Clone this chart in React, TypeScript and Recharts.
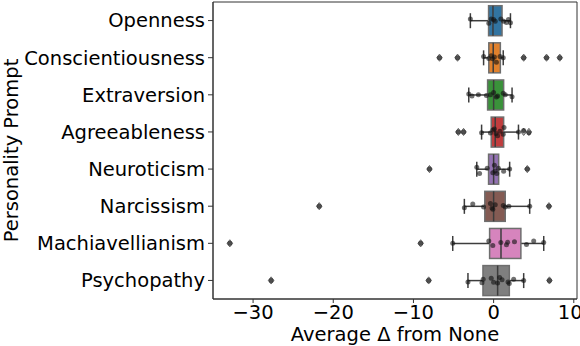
import { ComposedChart, Bar, Scatter, XAxis, YAxis, ReferenceArea } from 'recharts'

const categories = ['Openness', 'Conscientiousness', 'Extraversion', 'Agreeableness', 'Neuroticism', 'Narcissism', 'Machiavellianism', 'Psychopathy']

// box statistics
const q1s        = [-0.63, -0.6, -0.75, -0.3, -0.63, -1.1, -0.5, -1.33]
const medians    = [-0.08, -0.05, 0.0, 0.2, 0.0, 0.0, 0.92, 0.5]
const q3s        = [1.05, 0.84, 1.25, 1.25, 0.63, 1.45, 3.4, 1.96]
const whiskerLow = [-2.9, -1.25, -3.1, -1.5, -2.1, -3.65, -5.1, -3.2]
const whiskerHi  = [2.1, 1.2, 2.3, 3.1, 2.0, 4.5, 6.25, 3.75]

// individual observations (strip points) and their vertical jitter
const opennessPts = [-2.9, -0.6, -0.3, 0.0, 0.2, 0.9, 1.25, 1.6, 1.85, 2.1]
const opennessJit = [-0.04, 0.07, -0.04, -0.03, 0.02, -0.04, 0.02, 0.05, -0.03, 0.06]
const conscPts = [-6.75, -4.5, -1.25, -0.6, -0.3, -0.1, 0.1, 0.35, 0.8, 1.2, 3.75, 6.6, 8.25]
const conscJit = [0, 0, -0.03, 0.02, -0.05, 0.03, -0.02, 0.12, -0.03, 0, 0, 0, 0]
const extraPts = [-3.1, -2.7, -1.9, -0.9, -0.4, 0.0, 0.35, 0.5, 1.2, 1.45, 2.3]
const extraJit = [-0.02, 0.03, 0, 0.02, 0, -0.06, 0.06, 0.03, -0.04, 0, 0.05]
const agreePts = [-4.4, -3.75, -1.5, -0.4, -0.1, 0.1, 0.3, 0.5, 0.8, 1.2, 1.3, 3.1, 3.75, 4.4]
const agreeJit = [0, 0, 0.02, 0.03, -0.05, -0.08, 0.04, 0.1, -0.02, 0.06, -0.12, 0, -0.04, 0.02]
const neuroPts = [-8.0, -2.1, -1.75, -0.8, -0.1, 0.1, 0.2, 0.4, 0.6, 1.25, 2.0, 4.2]
const neuroJit = [0, -0.05, 0.12, -0.02, 0.1, -0.1, 0.05, 0.12, -0.02, 0.06, 0, 0]
const narcPts = [-21.75, -3.65, -2.6, -1.25, -0.4, -0.2, -0.1, 0.2, 1.2, 1.45, 1.9, 4.5, 6.9]
const narcJit = [0, 0.04, -0.06, 0.02, -0.07, 0.05, 0.08, -0.04, -0.02, 0.02, 0, 0, 0]
const machPts = [-32.9, -9.1, -5.1, -0.6, -0.1, 0.9, 1.6, 1.75, 2.6, 4.1, 5.0, 6.25]
const machJit = [0, 0, 0, -0.06, 0.06, -0.02, 0.04, -0.03, -0.04, 0.03, -0.06, -0.02]
const psychPts = [-27.75, -8.1, -3.2, -1.45, -1.3, -0.3, 0.0, 0.5, 0.75, 1.05, 1.8, 1.95, 2.5, 3.75, 6.96]
const psychJit = [0, 0, 0.04, 0.06, -0.03, -0.06, 0.05, 0.07, -0.08, -0.02, 0.04, 0.08, -0.03, 0, 0]

const xTicks = [-30, -20, -10, 0, 10]

const colors = ['#3274a1', '#e1812c', '#3a923a', '#c03d3e', '#9372b2', '#845b53', '#d684bd', '#7f7f7f']
const FONT = '"DejaVu Sans", sans-serif'

const allPts = [opennessPts, conscPts, extraPts, agreePts, neuroPts, narcPts, machPts, psychPts]
const allJit = [opennessJit, conscJit, extraJit, agreeJit, neuroJit, narcJit, machJit, psychJit]

const boxes = categories.map((name, i) => ({
  name, q1: q1s[i], med: medians[i], q3: q3s[i], lo: whiskerLow[i], hi: whiskerHi[i],
}))

const points = allPts.flatMap((vals, i) => vals.map((v, j) => ({ x: v, y: i + allJit[i][j] })))
const fliers = allPts.flatMap((vals, i) =>
  vals.filter(v => v < whiskerLow[i] || v > whiskerHi[i]).map(v => ({ x: v, y: i })))

const fmtX = (v: number) => (v < 0 ? `\u2212${-v}` : `${v}`)

function BoxShape(props: any) {
  const { x, y, width, height, payload, index } = props
  const k = width / (payload.q3 - payload.q1)
  const px = (v: number) => x + (v - payload.q1) * k
  const cy = y + height / 2
  const cap = height / 4
  const line = '#3d3d3d'
  return (
    <g>
      <line x1={px(payload.lo)} x2={x} y1={cy} y2={cy} stroke={line} strokeWidth={1.5} />
      <line x1={x + width} x2={px(payload.hi)} y1={cy} y2={cy} stroke={line} strokeWidth={1.5} />
      <line x1={px(payload.lo)} x2={px(payload.lo)} y1={cy - cap} y2={cy + cap} stroke={line} strokeWidth={1.5} />
      <line x1={px(payload.hi)} x2={px(payload.hi)} y1={cy - cap} y2={cy + cap} stroke={line} strokeWidth={1.5} />
      <rect x={x} y={y} width={width} height={height} fill={colors[index]} stroke="#6e6e6e" strokeWidth={1.5} />
      <line x1={px(payload.med)} x2={px(payload.med)} y1={y} y2={y + height} stroke={line} strokeWidth={1.5} />
    </g>
  )
}

const Dot = (p: any) => <circle cx={p.cx} cy={p.cy} r={2.5} fill="#111" fillOpacity={0.6} />
const Diamond = (p: any) => (
  <path d={`M${p.cx},${p.cy - 3.6}L${p.cx + 2.8},${p.cy}L${p.cx},${p.cy + 3.6}L${p.cx - 2.8},${p.cy}Z`}
    fill="#a8a8a8" stroke="#555" strokeWidth={0.8} />
)

export default function App() {
  const tickStyle = { fontSize: 19.5, fill: '#000', fontFamily: FONT }
  return (
    <div style={{ position: 'absolute', left: 0, top: 0, background: '#fff' }}>
      <ComposedChart width={580} height={346} data={boxes} layout="vertical"
        margin={{ top: 2, right: 3, bottom: 0, left: 0 }} barCategoryGap="10%">
        <XAxis xAxisId="val" type="number" dataKey="x" domain={[-35, 10.4]} ticks={xTicks}
          allowDataOverflow tickFormatter={fmtX} height={47} tick={tickStyle}
          tickSize={4} tickMargin={2} stroke="#333"
          label={{ value: 'Average \u0394 from None', position: 'insideBottom', offset: 5,
            style: { fontSize: 19.5, fill: '#000', fontFamily: FONT } }} />
        <YAxis yAxisId="cat" type="category" dataKey="name" width={213} interval={0}
          tick={tickStyle} tickSize={5} tickMargin={3} stroke="#333"
          label={{ value: 'Personality Prompt', angle: -90, position: 'center', dx: -95,
            style: { fontSize: 19.5, fill: '#000', fontFamily: FONT } }} />
        <YAxis yAxisId="num" type="number" dataKey="y" domain={[-0.5, 7.5]} hide allowDataOverflow />
        <ReferenceArea xAxisId="val" yAxisId="num" x1={-35} x2={10.4} y1={-0.5} y2={7.5}
          fill="none" stroke="#333" strokeWidth={1} ifOverflow="visible" />
        <Bar xAxisId="val" yAxisId="cat" dataKey={(d: any) => [d.q1, d.q3]}
          shape={BoxShape} isAnimationActive={false} />
        <Scatter xAxisId="val" yAxisId="num" data={fliers} shape={Diamond} isAnimationActive={false} />
        <Scatter xAxisId="val" yAxisId="num" data={points} shape={Dot} isAnimationActive={false} />
      </ComposedChart>
    </div>
  )
}
